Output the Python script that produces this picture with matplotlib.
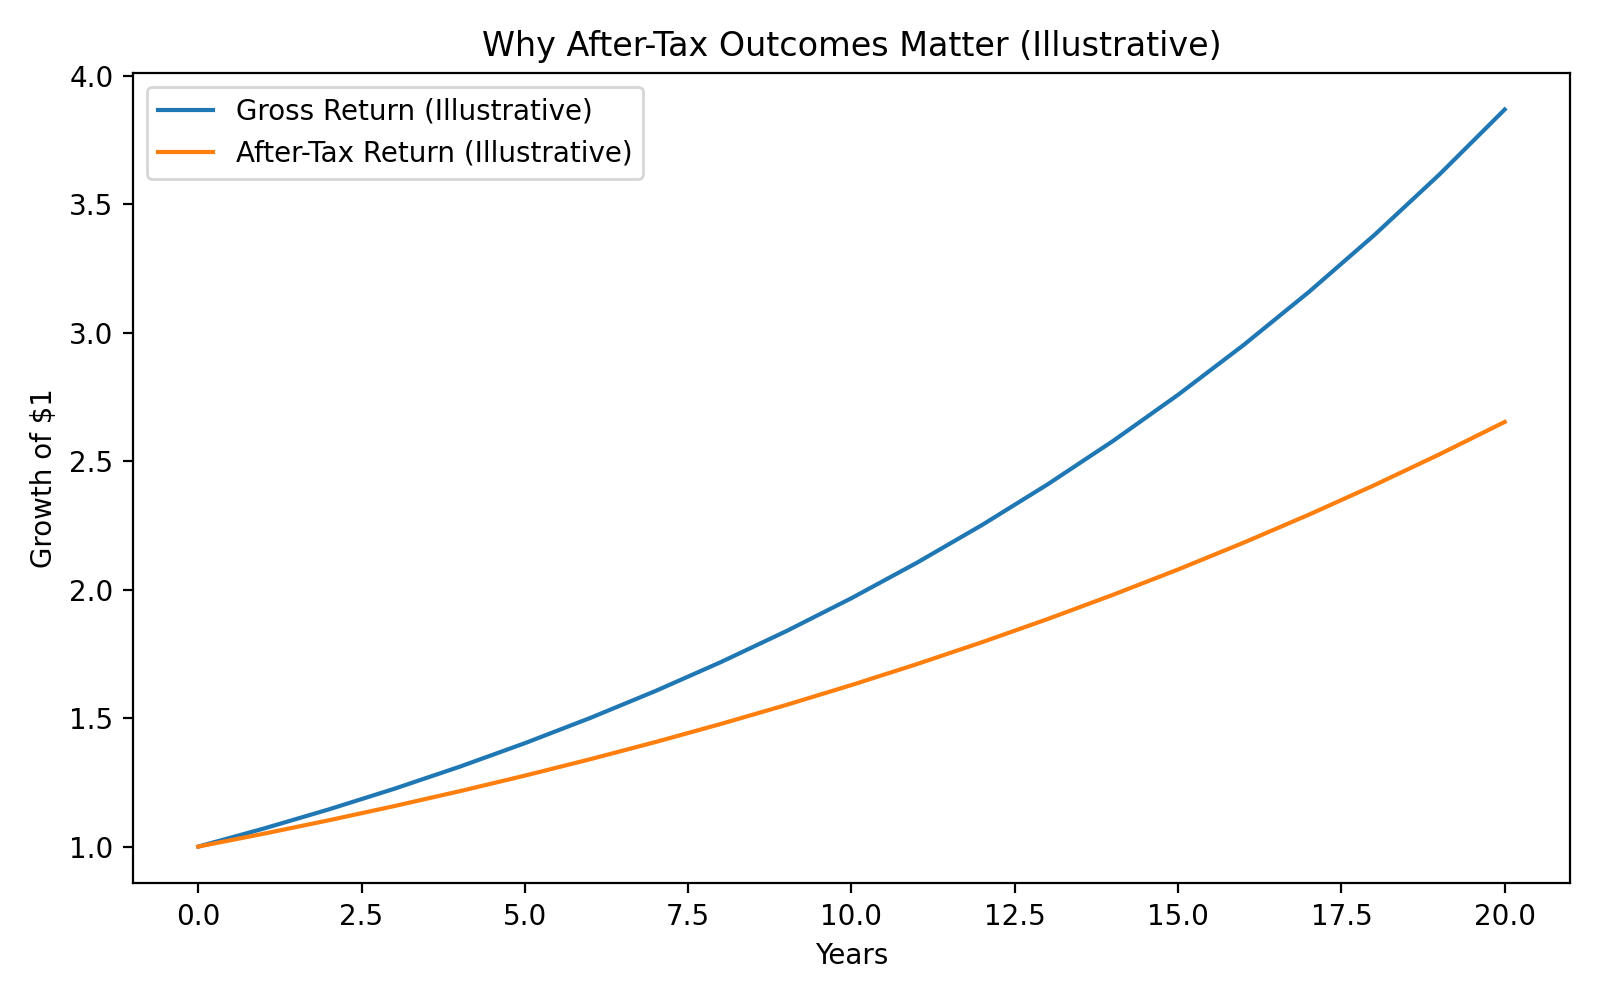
import matplotlib
matplotlib.use("Agg")
import matplotlib.pyplot as plt

years = list(range(0, 21))
gross = [1.0000, 1.0700, 1.1449, 1.2250, 1.3108, 1.4026, 1.5007, 1.6058, 1.7182,
         1.8385, 1.9672, 2.1049, 2.2522, 2.4098, 2.5785, 2.7590, 2.9522, 3.1588,
         3.3799, 3.6165, 3.8697]
after_tax = [1.0000, 1.0500, 1.1025, 1.1576, 1.2155, 1.2763, 1.3401, 1.4071, 1.4775,
             1.5513, 1.6289, 1.7103, 1.7959, 1.8856, 1.9799, 2.0789, 2.1829, 2.2920,
             2.4066, 2.5270, 2.6533]

fig, ax = plt.subplots(figsize=(8, 5), dpi=200)
ax.plot(years, gross, label="Gross Return (Illustrative)")
ax.plot(years, after_tax, label="After-Tax Return (Illustrative)")
ax.set_title("Why After-Tax Outcomes Matter (Illustrative)")
ax.set_xlabel("Years")
ax.set_ylabel("Growth of $1")
ax.legend(loc="upper left")
fig.tight_layout()
fig.savefig("out.png", dpi=200)
